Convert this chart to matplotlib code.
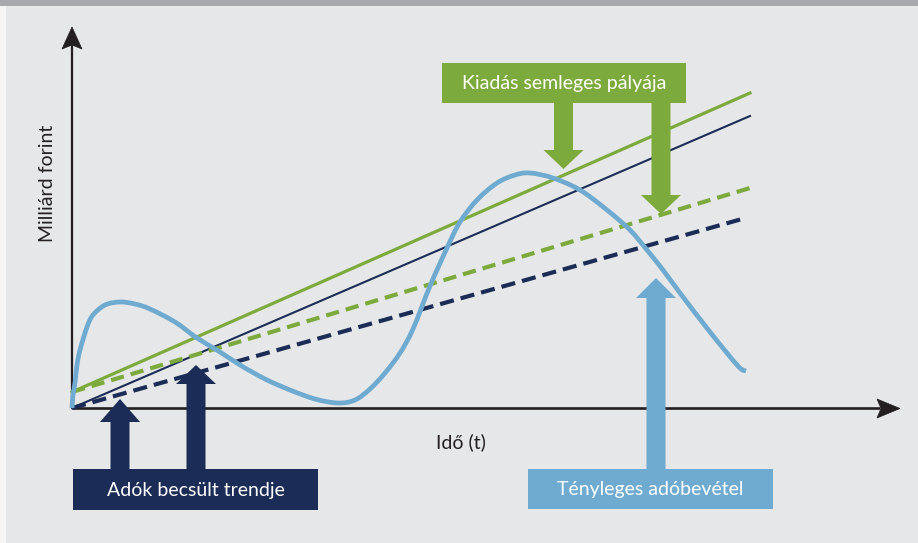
import matplotlib
matplotlib.use("Agg")
import matplotlib.pyplot as plt
import numpy as np
from matplotlib.patches import Polygon, Rectangle, PathPatch
from matplotlib.path import Path

# ---------------- data (schematic units: time, billion HUF) ----------------
trend_t = [0, 678]
spend_neutral_solid = [16, 315]
tax_trend_solid = [0, 292]
spend_neutral_dashed = [16, 220]
tax_trend_dashed_t = [0, 670]
tax_trend_dashed = [0, 189]

actual_t = [0, 1, 3, 5, 8, 15, 21, 33, 48, 63, 78, 103, 125, 148, 168, 193,
            218, 243, 266, 283, 298, 313, 328, 341, 358, 375, 388, 405, 425,
            443, 458, 481, 508, 535, 558, 575, 591, 608, 638, 666, 674]
actual_rev = [0, 13, 25, 43, 58, 81, 93, 103, 106, 104, 99, 86, 70, 56, 43,
              29, 18, 9, 5, 8, 19, 35, 55, 79, 122, 160, 186, 208, 225, 233,
              235, 230, 218, 198, 178, 158, 138, 115, 76, 42, 37]

label_y = "Milliárd forint"
label_x = "Idő (t)"
box_green = "Kiadás semleges pályája"
box_navy = "Adók becsült trendje"
box_blue = "Tényleges adóbevétel"

# ---------------- style ----------------
GREEN = "#7daa3c"
NAVY = "#1b2c56"
BLUE = "#6faad1"
BG = "#e6e7e8"
AX = "#231f20"
FONT = ["Lato", "DejaVu Sans"]
FS = 14

W, H = 918, 543
OX, OY = 72, 408  # pixel position of origin

fig = plt.figure(figsize=(W / 100, H / 100), dpi=100)
fig.patch.set_facecolor(BG)
ax = fig.add_axes([0, 0, 1, 1])
ax.set_xlim(-OX, W - OX)
ax.set_ylim(OY - H, OY)
ax.axis("off")
ax.set_facecolor(BG)


def P(x, y):
    """pixel (from top-left) -> data coords"""
    return (x - OX, OY - y)


# frame decorations
fig.patches.append(Rectangle((0, 1 - 6 / H), 1, 6 / H, transform=fig.transFigure,
                             facecolor="#a7a9ac", edgecolor="none", zorder=0))
fig.patches.append(Rectangle((0, 0), 6 / W, 1 - 6 / H, transform=fig.transFigure,
                             facecolor="#f5f5f6", edgecolor="none", zorder=0))

# axes with arrow heads
ax.plot([0, 0], [0, OY - 45], color=AX, lw=1.6, zorder=2, solid_capstyle="butt")
ax.add_patch(Polygon([P(72, 27), P(62, 49), P(72, 45), P(82, 49)], closed=True,
                     facecolor=AX, edgecolor=AX, lw=0.5, zorder=2))
ax.plot([0, 880 - OX], [0, 0], color=AX, lw=1.9, zorder=2, solid_capstyle="butt")
ax.add_patch(Polygon([P(900, 408.5), P(877, 399), P(881, 408.5), P(877, 418)], closed=True,
                     facecolor=AX, edgecolor=AX, lw=0.5, zorder=2))

# lines
ax.plot(trend_t, spend_neutral_solid, color=GREEN, lw=2.3, zorder=3)
ax.plot(trend_t, tax_trend_solid, color=NAVY, lw=1.5, zorder=3)
ax.plot(trend_t, spend_neutral_dashed, color=GREEN, lw=3.0, zorder=3,
        dashes=(3.2, 1.7))
ax.plot(tax_trend_dashed_t, tax_trend_dashed, color=NAVY, lw=3.0, zorder=3,
        dashes=(3.4, 1.7))

# actual revenue: smooth curve through the read points (Catmull-Rom as Bezier path)
pts = np.column_stack([actual_t, actual_rev]).astype(float)
ext = np.vstack([pts[0], pts, pts[-1]])
verts = [tuple(pts[0])]
codes = [Path.MOVETO]
for i in range(1, len(ext) - 2):
    p0, p1, p2, p3 = ext[i - 1], ext[i], ext[i + 1], ext[i + 2]
    c1 = p1 + (p2 - p0) / 6.0
    c2 = p2 - (p3 - p1) / 6.0
    verts += [tuple(c1), tuple(c2), tuple(p2)]
    codes += [Path.CURVE4] * 3
ax.add_patch(PathPatch(Path(verts, codes), facecolor="none", edgecolor=BLUE,
                       lw=3.4, zorder=4, joinstyle="round", capstyle="butt"))

# axis labels
ax.text(*P(47, 183), label_y, rotation=90, ha="center", va="center",
        fontsize=FS, color=AX, family=FONT)
ax.text(*P(461, 442), label_x, ha="center", va="center",
        fontsize=FS, color=AX, family=FONT)


def up_arrow(cx, tip, head_base, bottom, color, sw=9.5, hw=20):
    p = [P(cx, tip), P(cx + hw, head_base), P(cx + sw, head_base),
         P(cx + sw, bottom), P(cx - sw, bottom), P(cx - sw, head_base),
         P(cx - hw, head_base)]
    ax.add_patch(Polygon(p, closed=True, facecolor=color, edgecolor="none", zorder=6))


def down_arrow(cx, top, head_base, tip, color, sw=9.5, hw=20):
    p = [P(cx, tip), P(cx + hw, head_base), P(cx + sw, head_base),
         P(cx + sw, top), P(cx - sw, top), P(cx - sw, head_base),
         P(cx - hw, head_base)]
    ax.add_patch(Polygon(p, closed=True, facecolor=color, edgecolor="none", zorder=6))


def box(x0, y0, x1, y1, color, text):
    ax.add_patch(Rectangle(P(x0, y1), x1 - x0, y1 - y0, facecolor=color,
                           edgecolor="none", zorder=7))
    ax.text(*P((x0 + x1) / 2, (y0 + y1) / 2 + 1), text, ha="center", va="center",
            fontsize=FS, color="white", family=FONT, zorder=8)


# green callout
box(442, 63, 686, 103, GREEN, box_green)
down_arrow(563.5, 102, 150, 169, GREEN)
down_arrow(661, 102, 195, 214, GREEN)

# navy callout
box(73, 469, 318, 510, NAVY, box_navy)
up_arrow(120, 399, 422, 470, NAVY)
up_arrow(196, 365, 384, 470, NAVY)

# blue callout
box(528, 469, 773, 509, BLUE, box_blue)
up_arrow(656, 278, 298, 470, BLUE)

fig.savefig("out.png", dpi=100, facecolor=fig.get_facecolor())
